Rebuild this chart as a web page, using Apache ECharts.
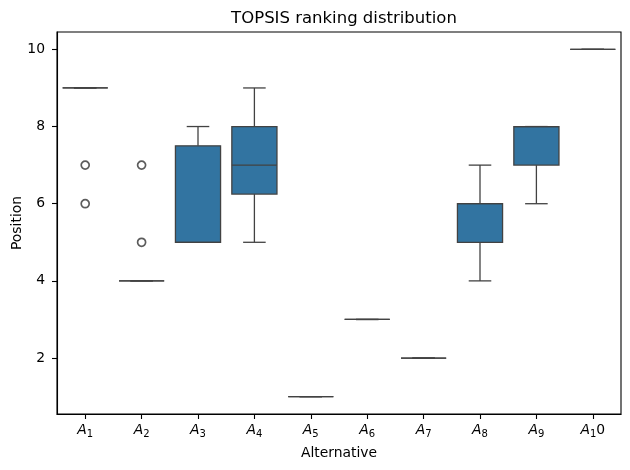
<!DOCTYPE html>
<html>
<head>
<meta charset="utf-8">
<script src="https://cdn.jsdelivr.net/npm/echarts@6/dist/echarts.min.js"></script>
<style>html,body{margin:0;padding:0;background:#fff}#c{width:630px;height:470px}</style>
</head>
<body>
<div id="c"></div>
<script>
// Categories (mathtext-style labels, as in the original)
var categories = ['A_1','A_2','A_3','A_4','A_5','A_6','A_7','A_8','A_9','A_10'];
// Box statistics per alternative: [min whisker, Q1, median, Q3, max whisker]
var boxMin    = [9, 4, 5, 5,    1, 3, 2, 4, 6, 10];
var boxQ1     = [9, 4, 5, 6.25, 1, 3, 2, 5, 7, 10];
var boxMedian = [9, 4, 5, 7,    1, 3, 2, 6, 8, 10];
var boxQ3     = [9, 4, 7.5, 8,  1, 3, 2, 6, 8, 10];
var boxMax    = [9, 4, 8, 9,    1, 3, 2, 7, 8, 10];
// Outliers: category index and value
var outlierCat = [0, 0, 1, 1];
var outlierVal = [7, 6, 7, 5];
var yTicks = [2, 4, 6, 8, 10];

var boxData = categories.map(function (c, i) {
  return [i, boxMin[i], boxQ1[i], boxMedian[i], boxQ3[i], boxMax[i]];
});
var outData = outlierCat.map(function (c, i) { return [c, outlierVal[i]]; });

var LINE = '#424242', FILL = '#3274a1';
var FONT = 'DejaVu Sans';

function fmtCat(v) {
  var parts = v.split('_');
  var sub = parts[1] || '';
  var s = '{a|' + parts[0] + '}';
  if (sub.length) s += '{s|' + sub.charAt(0) + '}';
  if (sub.length > 1) s += '{n|' + sub.slice(1) + '}';
  return s;
}

var chart = echarts.init(document.getElementById('c'), null, {renderer: 'canvas'});
chart.setOption({
  animation: false,
  backgroundColor: '#fff',
  title: {
    text: 'TOPSIS ranking distribution',
    left: 339, top: 5, textAlign: 'center',
    textStyle: {fontFamily: FONT, fontSize: 16.5, fontWeight: 'normal', color: '#000'}
  },
  grid: {left: 57, right: 9, top: 32, bottom: 56, outerBoundsMode: 'none', containLabel: false, show: true, borderColor: '#000', borderWidth: 1.1, backgroundColor: 'transparent'},
  xAxis: {
    type: 'category',
    data: categories,
    boundaryGap: true,
    name: 'Alternative',
    nameLocation: 'middle',
    nameGap: 32,
    nameMoveOverlap: false,
    nameTextStyle: {fontFamily: FONT, fontSize: 13.9, color: '#000'},
    axisLine: {show: true, lineStyle: {color: '#000', width: 1.1}},
    axisTick: {show: true, interval: 0, alignWithLabel: true, length: 5, lineStyle: {color: '#000', width: 1.1}},
    axisLabel: {
      interval: 0,
      margin: 7,
      formatter: fmtCat,
      rich: {
        a: {fontFamily: FONT, fontStyle: 'italic', fontSize: 13.9, color: '#000', lineHeight: 18, verticalAlign: 'middle'},
        s: {fontFamily: FONT, fontSize: 10, color: '#000', lineHeight: 18, verticalAlign: 'bottom', padding: [4, 0, 0, 0]},
        n: {fontFamily: FONT, fontSize: 13.9, color: '#000', lineHeight: 18, verticalAlign: 'middle'}
      }
    },
    splitLine: {show: false}
  },
  yAxis: {
    type: 'value',
    min: 0.55, max: 10.45,
    name: 'Position',
    nameLocation: 'middle',
    nameGap: 33,
    nameMoveOverlap: false,
    nameTextStyle: {fontFamily: FONT, fontSize: 13.9, color: '#000'},
    axisLine: {show: true, lineStyle: {color: '#000', width: 1.1}},
    axisTick: {show: true, length: 5, customValues: yTicks, lineStyle: {color: '#000', width: 1.1}},
    axisLabel: {margin: 12, customValues: yTicks, fontFamily: FONT, fontSize: 13.9, color: '#000'},
    splitLine: {show: false}
  },
  series: [
    {
      type: 'custom',
      data: boxData,
      encode: {x: 0, y: [1, 2, 3, 4, 5]},
      renderItem: function (params, api) {
        var x = api.value(0);
        var pMin = api.coord([x, api.value(1)]);
        var pQ1 = api.coord([x, api.value(2)]);
        var pMed = api.coord([x, api.value(3)]);
        var pQ3 = api.coord([x, api.value(4)]);
        var pMax = api.coord([x, api.value(5)]);
        var bw = api.size([1, 0])[0] * 0.8;
        var cx = pMed[0];
        var ls = {stroke: LINE, lineWidth: 1.3, fill: null};
        return {
          type: 'group',
          children: [
            {type: 'line', shape: {x1: cx, y1: pQ1[1], x2: cx, y2: pMin[1]}, style: ls},
            {type: 'line', shape: {x1: cx, y1: pQ3[1], x2: cx, y2: pMax[1]}, style: ls},
            {type: 'line', shape: {x1: cx - bw / 4, y1: pMin[1], x2: cx + bw / 4, y2: pMin[1]}, style: ls},
            {type: 'line', shape: {x1: cx - bw / 4, y1: pMax[1], x2: cx + bw / 4, y2: pMax[1]}, style: ls},
            {type: 'rect', shape: {x: cx - bw / 2, y: pQ3[1], width: bw, height: pQ1[1] - pQ3[1]}, style: {fill: FILL, stroke: LINE, lineWidth: 1.3}},
            {type: 'line', shape: {x1: cx - bw / 2, y1: pMed[1], x2: cx + bw / 2, y2: pMed[1]}, style: ls}
          ]
        };
      },
      z: 2
    },
    {
      type: 'scatter',
      data: outData,
      symbol: 'circle',
      symbolSize: 8,
      itemStyle: {color: 'rgba(0,0,0,0)', borderColor: '#333', borderWidth: 1.7},
      z: 3
    }
  ]
});
</script>
</body>
</html>
